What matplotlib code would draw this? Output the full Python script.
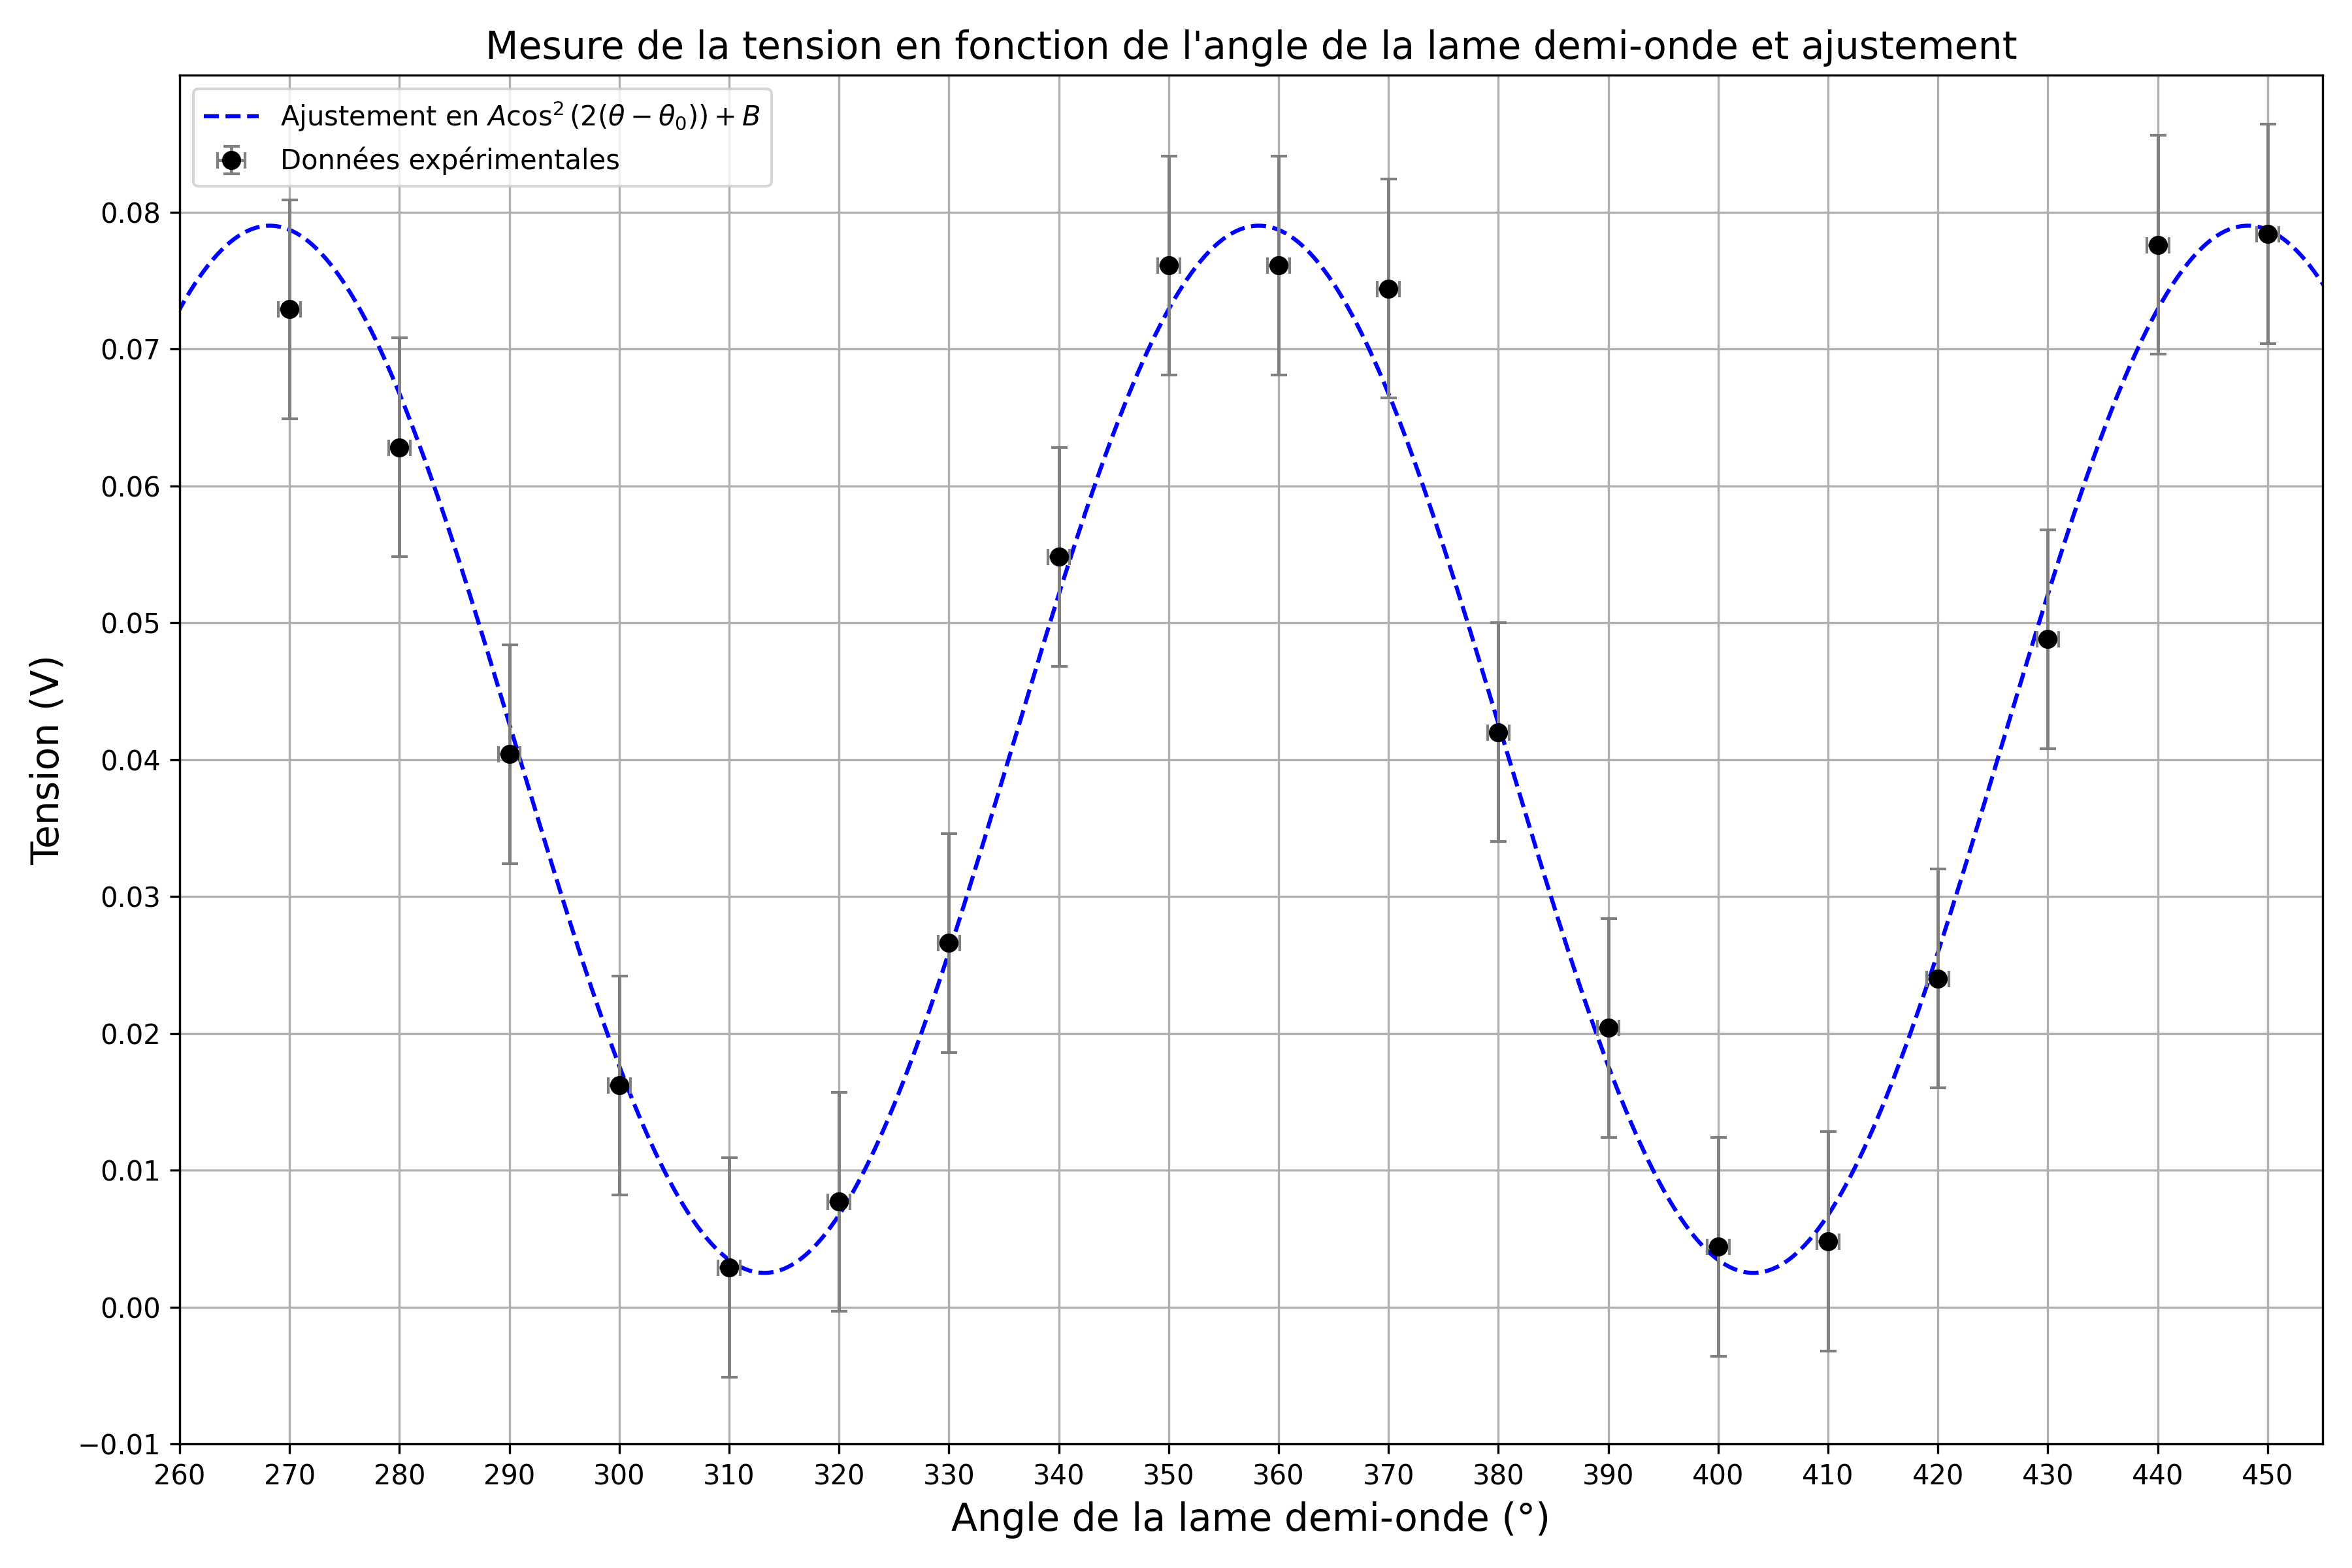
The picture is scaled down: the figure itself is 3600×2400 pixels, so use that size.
import numpy as np
import matplotlib
matplotlib.use('Agg')
import matplotlib.pyplot as plt

# Angles de la lame demi-onde (degrés) et tensions mesurées (V)
angles = [270, 280, 290, 300, 310, 320, 330, 340, 350, 360,
          370, 380, 390, 400, 410, 420, 430, 440, 450]
tensions = [0.0729, 0.0628, 0.0404, 0.0162, 0.0029, 0.0077, 0.0266, 0.0548, 0.0761, 0.0761,
            0.0744, 0.0420, 0.0204, 0.0044, 0.0048, 0.0240, 0.0488, 0.0776, 0.0784]
err_angle = 1.0
err_tension = 0.008

# Paramètres de l'ajustement A cos^2(2(theta - theta0)) + B
A_fit = 0.0765
B_fit = 0.0025
theta0_fit = 268.2


def modele(theta, A, theta0, B):
    return A * np.cos(np.radians(2 * (theta - theta0))) ** 2 + B


theta_fin = np.linspace(255, 460, 1000)

fig, ax = plt.subplots(figsize=(12, 8))

ax.plot(theta_fin, modele(theta_fin, A_fit, theta0_fit, B_fit), '--', color='blue',
        label=r'Ajustement en $A\cos^2(2(\theta - \theta_0)) + B$')
ax.errorbar(angles, tensions, xerr=err_angle, yerr=err_tension, fmt='o', color='black',
            ecolor='gray', elinewidth=1.2, capsize=3, label='Données expérimentales')

ax.set_xlim(260, 455)
ax.set_ylim(-0.01, 0.09)
ax.set_xticks(np.arange(260, 451, 10))
ax.set_yticks(np.arange(-0.01, 0.081, 0.01))
ax.set_xlabel('Angle de la lame demi-onde (°)', fontsize=14)
ax.set_ylabel('Tension (V)', fontsize=14)
ax.set_title("Mesure de la tension en fonction de l'angle de la lame demi-onde et ajustement", fontsize=14)
ax.grid(True)
ax.legend(loc='upper left')

plt.tight_layout()
fig.savefig('out.png', dpi=300)
